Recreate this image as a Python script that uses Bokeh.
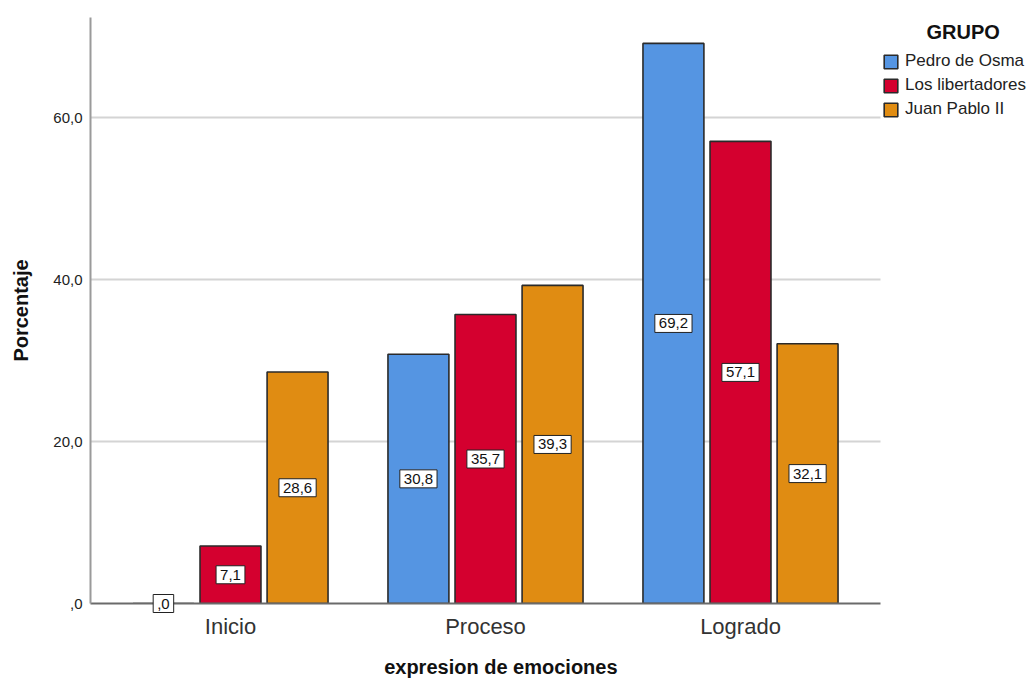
from bokeh.plotting import figure
from bokeh.models import (ColumnDataSource, Range1d, FixedTicker, Legend,
                          LegendItem, Text, Grid)
from bokeh.core.properties import value
from bokeh.transform import dodge
from bokeh.embed import file_html
from bokeh.resources import INLINE

# ---- data ----
categories = ["Inicio", "Proceso", "Logrado"]
groups = ["Pedro de Osma", "Los libertadores", "Juan Pablo II"]
pedro_de_osma = [0.0, 30.8, 69.2]
los_libertadores = [7.1, 35.7, 57.1]
juan_pablo_ii = [28.6, 39.3, 32.1]
y_ticks = [0, 20, 40, 60]
y_tick_labels = [",0", "20,0", "40,0", "60,0"]
legend_title = "GRUPO"
x_title = "expresion de emociones"
y_title = "Porcentaje"

colors = ["#5595E2", "#D4002F", "#E08C12"]
FONT = "Liberation Sans"


def fmt(v):
    s = f"{v:.1f}".replace(".", ",")
    if s.startswith("0,"):
        s = s[1:]
    return s


cat_pos = list(range(1, len(categories) + 1))

# axis spans 0.451 .. 3.549 (90px .. 880px); the frame continues to the right
# edge of the canvas so that the legend (drawn inside the frame) is not clipped
X0, X1 = 0.451, 3.549
W, H = 1033, 680
px_per_unit = (880 - 90) / (X1 - X0)
x_end = X0 + (W - 90) / px_per_unit

p = figure(width=W, height=H,
           x_range=Range1d(X0, x_end), y_range=Range1d(0, 72.4),
           output_backend="svg", toolbar_location=None,
           min_border_left=90, min_border_right=0,
           min_border_top=17, min_border_bottom=H - 603)
p.outline_line_color = None
p.background_fill_color = "white"
p.border_fill_color = "white"

series = [pedro_de_osma, los_libertadores, juan_pablo_ii]
offsets = [-0.263, 0.0, 0.263]
renderers = []
has_box = "padding" in Text.properties()

for vals, col, off in zip(series, colors, offsets):
    lbls = [fmt(v) for v in vals]
    src = ColumnDataSource(dict(
        x=cat_pos, top=vals, mid=[v / 2 for v in vals], lbl=lbls,
        bw=[8.5 * len(s) + 4 for s in lbls]))
    r = p.vbar(x=dodge("x", off), top="top", bottom=0, width=0.239,
               source=src, fill_color=col, line_color="#2a2a2a",
               line_width=1.6)
    renderers.append(r)
    if has_box:
        p.text(x=dodge("x", off), y="mid", text="lbl", source=src,
               text_align="center", text_baseline="middle",
               text_font=value(FONT), text_font_size="15px",
               text_color="#111111",
               background_fill_color="white",
               border_line_color="#222222", border_line_width=1,
               padding=(4, 4), level="annotation")
    else:
        p.rect(x=dodge("x", off), y="mid", width="bw", height=24,
               width_units="screen", height_units="screen", source=src,
               fill_color="white", line_color="#222222", line_width=1,
               level="annotation")
        p.text(x=dodge("x", off), y="mid", text="lbl", source=src,
               text_align="center", text_baseline="middle",
               text_font=value(FONT), text_font_size="15px",
               text_color="#111111", level="annotation")

# ---- axes ----
p.xgrid.visible = False
p.yaxis.ticker = FixedTicker(ticks=y_ticks)
grid_ticks = [t for t in y_ticks if t > 0]
if "cross_bounds" in Grid.properties():
    p.ygrid.ticker = FixedTicker(ticks=grid_ticks)
    p.ygrid.cross_bounds = (X0, X1)
    p.ygrid.grid_line_color = "#d4d4d4"
    p.ygrid.grid_line_width = 2
else:
    p.ygrid.visible = False
    p.segment(x0=X0, x1=X1, y0=grid_ticks, y1=grid_ticks,
              line_color="#d4d4d4", line_width=2, level="underlay")

p.yaxis.major_label_overrides = {t: l for t, l in zip(y_ticks, y_tick_labels)}
p.yaxis.major_tick_out = 0
p.yaxis.major_tick_in = 0
p.yaxis.minor_tick_out = 0
p.yaxis.minor_tick_in = 0
p.yaxis.axis_line_color = "#9a9a9a"
p.yaxis.axis_line_width = 2
p.yaxis.major_label_text_font = FONT
p.yaxis.major_label_text_font_size = "15px"
p.yaxis.major_label_text_color = "#222222"
p.yaxis.major_label_standoff = 8
p.yaxis.axis_label = y_title
p.yaxis.axis_label_text_font = FONT
p.yaxis.axis_label_text_font_style = "bold"
p.yaxis.axis_label_text_font_size = "20px"
p.yaxis.axis_label_text_color = "#111111"
p.yaxis.axis_label_standoff = 18

p.xaxis.ticker = FixedTicker(ticks=cat_pos)
p.xaxis.bounds = (X0, X1)
p.xaxis.major_label_overrides = {i: c for i, c in zip(cat_pos, categories)}
p.xaxis.major_tick_out = 0
p.xaxis.major_tick_in = 0
p.xaxis.minor_tick_out = 0
p.xaxis.minor_tick_in = 0
p.xaxis.axis_line_color = "#6a6a6a"
p.xaxis.axis_line_width = 2
p.xaxis.major_label_text_font = FONT
p.xaxis.major_label_text_font_size = "22px"
p.xaxis.major_label_text_color = "#333333"
p.xaxis.major_label_standoff = 10
# the frame is wider than the visible axis: trailing no-break spaces keep the
# centred title under the visible axis (90..880 px)
p.xaxis.axis_label = x_title + "\u00a0" * 22
p.xaxis.axis_label_text_font = FONT
p.xaxis.axis_label_text_font_style = "bold"
p.xaxis.axis_label_text_font_size = "20px"
p.xaxis.axis_label_text_color = "#111111"
p.xaxis.axis_label_standoff = 14

# ---- legend ----
items = [LegendItem(label=g, renderers=[r]) for g, r in zip(groups, renderers)]
legend = Legend(items=items, location=(792, 484), padding=0, margin=0,
                border_line_color=None, background_fill_alpha=0,
                glyph_width=17, glyph_height=17, label_height=17,
                spacing=4, label_standoff=6,
                label_text_font=FONT, label_text_font_size="17px",
                label_text_color="#222222",
                title="\u00a0" * 8 + legend_title,
                title_text_font=FONT, title_text_font_style="bold",
                title_text_font_size="20px", title_text_color="#111111",
                title_standoff=7)
p.add_layout(legend)

open("out.html", "w").write(file_html(p, INLINE))
